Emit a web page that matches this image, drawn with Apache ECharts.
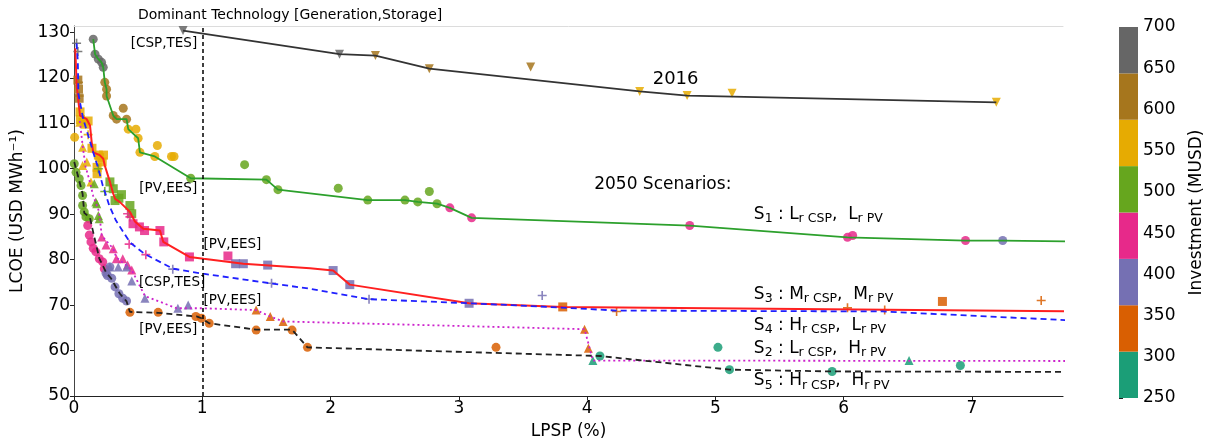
<!DOCTYPE html>
<html>
<head>
<meta charset="utf-8">
<script src="https://cdn.jsdelivr.net/npm/echarts@6/dist/echarts.min.js"></script>
<style>
  html, body { margin: 0; background: #fff; }
  #chart { width: 1215px; height: 445px; }
</style>
</head>
<body>
<div id="chart"></div>
<script>
// LCOE vs LPSP, Pareto fronts per scenario, points coloured by investment (MUSD)

// colour bar: Dark2, 8 bins between 250 and 700
const invEdges = [250, 306.25, 362.5, 418.75, 475, 531.25, 587.5, 643.75, 700];
const invColors = ['#1b9e77', '#d95f02', '#7570b3', '#e7298a', '#66a61e', '#e6ab02', '#a6761d', '#666666'];
const invTicks = [250, 300, 350, 400, 450, 500, 550, 600, 650, 700];
const xTicks = [0, 1, 2, 3, 4, 5, 6, 7];
const yTicks = [50, 60, 70, 80, 90, 100, 110, 120, 130];

// 2016 (black solid, triangle down) - points are [lpsp, lcoe, investment]
const line2016 = [[0.85, 130.4], [2.07, 125.2], [2.35, 124.9], [2.77, 122.0], [4.41, 117.0], [4.78, 116.1], [7.19, 114.6]];
const pts2016 = [[0.85, 130.4, 670], [2.07, 125.2, 670], [2.35, 124.9, 615], [2.77, 122.0, 615], [3.56, 122.4, 615],
  [4.41, 117.0, 560], [4.78, 116.1, 560], [5.13, 116.6, 560], [7.19, 114.6, 560]];

// S1 (green solid, circles)
const lineS1 = [[0.15, 128.5], [0.164, 125.2], [0.19, 124.1], [0.215, 123.4], [0.228, 122.3], [0.24, 119], [0.254, 117.5],
  [0.254, 116], [0.306, 111.7], [0.332, 110.9], [0.41, 110.9], [0.423, 108.7], [0.5, 106.7], [0.514, 103.6], [0.63, 102.7],
  [0.91, 97.9], [1.5, 97.6], [1.59, 95.4], [2.29, 93.1], [2.58, 93.1], [2.68, 92.7], [2.83, 92.3], [2.93, 91.4], [3.1, 89.2],
  [4.8, 87.5], [6.03, 84.9], [6.95, 84.2], [7.24, 84.2], [7.8, 84.0]];
const ptsS1 = [[0.15, 128.5, 670], [0.164, 125.2, 670], [0.19, 124.1, 670], [0.215, 123.4, 670], [0.228, 122.3, 670],
  [0.24, 119, 615], [0.254, 117.5, 615], [0.254, 116, 615], [0.384, 113.3, 615], [0.306, 111.7, 615], [0.332, 110.9, 615],
  [0.41, 110.9, 590], [0.423, 108.7, 560], [0.483, 108.7, 560], [0.5, 106.7, 560], [0.65, 105.1, 560], [0.514, 103.6, 560],
  [0.63, 102.7, 560], [0.76, 102.7, 560], [0.78, 102.7, 560],
  [0.91, 97.9, 500], [1.33, 100.9, 500], [1.5, 97.6, 500], [1.59, 95.4, 500], [2.06, 95.7, 500], [2.29, 93.1, 500],
  [2.58, 93.1, 500], [2.68, 92.7, 500], [2.77, 95.0, 500], [2.83, 92.3, 500],
  [2.93, 91.4, 445], [3.1, 89.2, 445], [4.8, 87.5, 445], [6.03, 84.9, 445], [6.07, 85.3, 445], [6.95, 84.2, 445],
  [7.24, 84.2, 390]];

// S3 (red solid, squares)
const lineS3 = [[0.01, 126.5], [0.021, 118.2], [0.047, 111.7], [0.099, 110.9], [0.125, 109.5], [0.138, 105.8], [0.15, 103.6],
  [0.2, 103], [0.228, 102.2], [0.24, 100.7], [0.28, 97.1], [0.306, 94.5], [0.32, 93.4], [0.36, 92.6], [0.436, 90.5],
  [0.475, 88.4], [0.54, 86.8], [0.67, 86.4], [0.696, 83.9], [0.9, 80.6], [1.01, 80.2], [1.32, 79.1], [1.84, 78.1],
  [2.02, 77.6], [2.15, 74.5], [3.08, 70.4], [3.81, 69.6], [7.8, 68.6]];
const ptsS3 = [[0.03, 119.5, 615], [0.035, 117.5, 615], [0.04, 115.5, 615],
  [0.047, 112.5, 560], [0.05, 110.8, 560], [0.11, 110.5, 560], [0.085, 109.8, 560], [0.14, 104.5, 560], [0.19, 103, 560],
  [0.2, 102.5, 560], [0.23, 103, 560], [0.22, 101.5, 560], [0.18, 100.3, 560], [0.18, 98.9, 560],
  [0.28, 97.1, 500], [0.306, 95.6, 500], [0.37, 94.3, 500], [0.35, 93.5, 500], [0.32, 93, 500], [0.436, 91.9, 500], [0.45, 90.1, 500],
  [0.46, 87.9, 445], [0.51, 87.2, 445], [0.55, 86.4, 445], [0.67, 86.4, 445], [0.7, 83.9, 445], [0.9, 80.6, 445], [1.2, 80.8, 445],
  [1.26, 79.1, 390], [1.32, 79.1, 390], [1.51, 78.8, 390], [2.02, 77.6, 390], [2.15, 74.5, 390], [3.08, 70.4, 390],
  [3.81, 69.6, 335], [6.77, 70.8, 335]];

// S4 (blue dashed, plus)
const lineS4 = [[0.02, 127.6], [0.03, 123.5], [0.034, 116.5], [0.072, 110.9], [0.111, 107.3], [0.15, 103.6], [0.19, 100],
  [0.224, 96.3], [0.241, 94.9], [0.275, 91.9], [0.327, 88.6], [0.436, 83.8], [0.553, 81.2], [0.773, 78], [1.007, 76.9],
  [1.53, 74.8], [1.84, 73.6], [2.3, 71.3], [3.08, 70.4], [3.63, 69.7], [4.23, 68.8], [6.3, 68.6], [7.8, 66.6]];
const ptsS4 = [[0.02, 127.6, 670], [0.03, 125.8, 670], [0.035, 119, 615], [0.04, 116, 615], [0.07, 111, 560], [0.11, 107.5, 560],
  [0.19, 100, 500], [0.24, 95, 500],
  [0.418, 90.1, 445], [0.436, 89.4, 445], [0.43, 83.4, 445], [0.56, 81.1, 445],
  [0.77, 77.9, 390], [1.54, 74.8, 390], [2.3, 71.3, 390], [3.65, 72.1, 390],
  [4.23, 68.6, 335], [6.03, 69.4, 335], [6.32, 68.9, 335], [7.54, 71.0, 335]];

// S2 (magenta dotted, triangles)
const lineS2 = [[0.045, 110.5], [0.07, 104.5], [0.09, 100.5], [0.12, 97.5], [0.15, 94], [0.19, 91], [0.2, 89.5], [0.216, 85.3],
  [0.306, 82.4], [0.33, 80.5], [0.45, 77.7], [0.553, 72], [0.8, 69.3], [1.007, 69.3], [1.42, 68.9], [1.53, 67.5], [1.63, 66.4],
  [3.98, 64.7], [4.02, 60.5], [4.045, 57.8], [7.8, 57.7]];
const ptsS2 = [[0.045, 110.2, 560], [0.067, 104.7, 560], [0.067, 100.7, 560], [0.1, 101.5, 560], [0.132, 97.1, 560],
  [0.158, 96.7, 500], [0.177, 92.3, 500], [0.19, 89.7, 500], [0.17, 92.7, 500], [0.197, 89, 500],
  [0.216, 85, 445], [0.25, 83.2, 445], [0.306, 82.4, 445], [0.33, 80.2, 445], [0.38, 80.2, 445], [0.418, 78.8, 445], [0.45, 77.7, 445],
  [0.28, 78.4, 390], [0.345, 78.4, 390], [0.41, 78.4, 390], [0.45, 75.3, 390], [0.553, 71.5, 390], [0.81, 69.3, 390], [0.89, 70, 390],
  [1.42, 68.9, 335], [1.53, 67.5, 335], [1.63, 66.4, 335], [3.98, 64.7, 335], [4.01, 60.5, 335],
  [4.045, 57.8, 280], [6.51, 57.8, 280]];

// S5 (black dashed, circles)
const lineS5 = [[0.002, 101.5], [0.03, 98.5], [0.067, 94.5], [0.08, 90.3], [0.125, 89.2], [0.138, 87.5], [0.15, 86],
  [0.197, 80.3], [0.25, 77.2], [0.288, 75.9], [0.358, 72.5], [0.41, 70.8], [0.436, 68.5], [0.656, 68.3], [0.955, 67.5],
  [0.994, 67.1], [1.054, 66], [1.42, 64.6], [1.7, 64.6], [1.82, 60.7], [4.1, 58.8], [5.11, 55.8], [5.91, 55.4], [7.8, 55.3]];
const ptsS5 = [[0.005, 106.9, 560],
  [0.002, 101.1, 500], [0.016, 99.2, 500], [0.041, 97.8, 500], [0.055, 96.3, 500], [0.067, 94.1, 500], [0.067, 91.9, 500],
  [0.08, 90.5, 500], [0.093, 89.4, 500], [0.119, 89, 500],
  [0.107, 87.5, 445], [0.119, 85.4, 445], [0.132, 83.9, 445], [0.15, 82.5, 445], [0.171, 81.7, 445], [0.197, 80.2, 445],
  [0.224, 79.5, 445], [0.236, 78, 445],
  [0.25, 77, 390], [0.28, 78.4, 390], [0.26, 76.5, 390], [0.294, 75.9, 390], [0.32, 74, 390], [0.35, 72.5, 390],
  [0.38, 71.5, 390], [0.41, 70.9, 390],
  [0.436, 68.4, 335], [0.656, 68.4, 335], [0.95, 67.5, 335], [0.994, 67.1, 335], [1.054, 66, 335], [1.42, 64.5, 335],
  [1.7, 64.5, 335], [1.82, 60.7, 335], [3.29, 60.7, 335],
  [4.1, 58.8, 280], [5.02, 60.7, 280], [5.11, 55.8, 280], [5.91, 55.4, 280], [6.91, 56.7, 280]];

// text annotations: [lpsp, lcoe, text, align]
const techLabels = [[0.96, 127.6, '[CSP,TES]', 'right'], [0.96, 95.6, '[PV,EES]', 'right'], [1.01, 83.3, '[PV,EES]', 'left'],
  [0.506, 75.0, '[CSP,TES]', 'left'], [1.01, 71.0, '[PV,EES]', 'left'], [0.96, 64.7, '[PV,EES]', 'right']];
const scenarioLabels = [
  [4.69, 119.7, '{b|2016}', 'center'],
  [4.59, 96.5, '{n|2050 Scenarios:}', 'center'],
  [5.3, 89.9, '{n|S}{s|1}{n| : L}{s|r CSP}{n|,  L}{s|r PV}', 'left'],
  [5.3, 72.4, '{n|S}{s|3}{n| : M}{s|r CSP}{n|,  M}{s|r PV}', 'left'],
  [5.3, 65.6, '{n|S}{s|4}{n| : H}{s|r CSP}{n|,  L}{s|r PV}', 'left'],
  [5.3, 60.5, '{n|S}{s|2}{n| : L}{s|r CSP}{n|,  H}{s|r PV}', 'left'],
  [5.3, 53.3, '{n|S}{s|5}{n| : H}{s|r CSP}{n|,  H}{s|r PV}', 'left']];

const FONT = 'DejaVu Sans';
const plusPath = 'path://M4.1,0H5.9V4.1H10V5.9H5.9V10H4.1V5.9H0V4.1H4.1Z';

function invColor(v) {
  for (let i = 0; i < invColors.length; i++) {
    if (v < invEdges[i + 1]) return invColors[i];
  }
  return invColors[invColors.length - 1];
}

const chart = echarts.init(document.getElementById('chart'), null, { renderer: 'canvas' });

function lineSeries(data, color, type, width) {
  return {
    type: 'line', data: data, xAxisIndex: 0, yAxisIndex: 0,
    showSymbol: false, symbol: 'none', silent: true, z: 4,
    lineStyle: { color: color, type: type, width: width }
  };
}

function pointSeries(data, symbol, size, rotate) {
  return {
    type: 'scatter', data: data, xAxisIndex: 0, yAxisIndex: 0,
    symbol: symbol, symbolSize: size, symbolRotate: rotate || 0, silent: true, z: 3,
    itemStyle: { color: p => invColor(p.data[2]), opacity: 0.85 }
  };
}

function textSeries(rows, rich) {
  return {
    type: 'scatter', xAxisIndex: 0, yAxisIndex: 0, symbolSize: 0, silent: true, z: 6,
    itemStyle: { color: '#000', opacity: 1 },
    data: rows.map(r => ({ value: [r[0], r[1]], label: { formatter: r[2], align: r[3] } })),
    label: {
      show: true, position: [0, 0], verticalAlign: 'middle', opacity: 1,
      fontFamily: FONT, fontSize: 13.5, color: '#000', textBorderWidth: 0, rich: rich
    }
  };
}

const richS = {
  n: { fontFamily: FONT, fontSize: 17, color: '#000', textBorderWidth: 0 },
  s: { fontFamily: FONT, fontSize: 12.5, color: '#000', textBorderWidth: 0, padding: [9, 0, 0, 0] },
  b: { fontFamily: FONT, fontSize: 18, color: '#000', textBorderWidth: 0 }
};

const option = {
  backgroundColor: '#fff',
  animation: false,
  graphic: [{
    type: 'text', left: 138, top: 8,
    style: { text: 'Dominant Technology [Generation,Storage]', fontFamily: FONT, fontSize: 14, fill: '#000' }
  }],
  grid: [
    { left: 74, right: 152, top: 26, bottom: 47 },
    { left: 1119, width: 19, top: 27, height: 371 }
  ],
  xAxis: [{
    type: 'value', gridIndex: 0, min: 0, max: 7.71, interval: 1,
    name: 'LPSP (%)', nameLocation: 'middle', nameGap: 27,
    nameTextStyle: { fontFamily: FONT, fontSize: 17, color: '#000' },
    axisLine: { lineStyle: { color: '#222', width: 1.2 } },
    axisTick: { length: 4, lineStyle: { color: '#222' }, customValues: xTicks },
    axisLabel: { fontFamily: FONT, fontSize: 17, color: '#000', margin: 4, customValues: xTicks },
    splitLine: { show: false }
  }, {
    type: 'value', gridIndex: 0, position: 'top', min: 0, max: 7.71,
    axisLine: { lineStyle: { color: '#dcdcdc' } }, axisTick: { show: false }, axisLabel: { show: false }, splitLine: { show: false }
  }, {
    type: 'value', gridIndex: 1, min: 0, max: 1, show: false
  }],
  yAxis: [{
    type: 'value', gridIndex: 0, min: 50, max: 131.4, interval: 10,
    name: 'LCOE (USD MWh\u207B\u00B9)', nameLocation: 'middle', nameGap: 48,
    nameTextStyle: { fontFamily: FONT, fontSize: 17, color: '#000' },
    axisLine: { show: true, lineStyle: { color: '#dcdcdc', width: 1 } },
    axisTick: { show: true, length: 4, lineStyle: { color: '#222' }, customValues: yTicks },
    axisLabel: { fontFamily: FONT, fontSize: 17, color: '#000', margin: 4, customValues: yTicks },
    splitLine: { show: false }
  }, {
    type: 'value', gridIndex: 0, position: 'right', min: 50, max: 131.4,
    axisLine: { show: true, lineStyle: { color: '#444' } }, axisTick: { show: false }, axisLabel: { show: false }, splitLine: { show: false }
  }, {
    type: 'value', gridIndex: 1, position: 'right', min: 250, max: 700, interval: 50,
    name: 'Investment (MUSD)', nameLocation: 'middle', nameGap: 50, nameRotate: 90,
    nameTextStyle: { fontFamily: FONT, fontSize: 17, color: '#000' },
    axisLine: { show: false },
    axisTick: { show: true, length: 4, lineStyle: { color: '#222' }, customValues: invTicks },
    axisLabel: { fontFamily: FONT, fontSize: 17, color: '#000', margin: 5, customValues: invTicks },
    splitLine: { show: false }
  }],
  series: [
    // colour bar
    {
      type: 'custom', xAxisIndex: 2, yAxisIndex: 2, silent: true,
      data: invColors.map((c, i) => [invEdges[i], invEdges[i + 1], i]),
      renderItem: function (params, api) {
        const p0 = api.coord([0, api.value(0)]);
        const p1 = api.coord([1, api.value(1)]);
        return {
          type: 'rect',
          shape: { x: p0[0], y: p1[1], width: p1[0] - p0[0], height: p0[1] - p1[1] },
          style: { fill: invColors[api.value(2)] }
        };
      }
    },
    pointSeries(pts2016, 'triangle', 9, 180),
    pointSeries(ptsS1, 'circle', 9),
    pointSeries(ptsS3, 'rect', 9),
    pointSeries(ptsS4, plusPath, 9),
    pointSeries(ptsS2, 'triangle', 9),
    pointSeries(ptsS5, 'circle', 9),
    Object.assign(lineSeries(line2016, '#333', 'solid', 1.8), {
      markLine: {
        silent: true, symbol: 'none', label: { show: false },
        lineStyle: { color: '#000', type: [4, 3], width: 1.5 },
        data: [{ xAxis: 1 }]
      }
    }),
    lineSeries(lineS1, '#2ca02c', 'solid', 1.8),
    lineSeries(lineS3, '#ff2020', 'solid', 2),
    lineSeries(lineS4, '#2020ff', [6, 4], 1.8),
    lineSeries(lineS2, '#cc22cc', [2, 3], 1.8),
    lineSeries(lineS5, '#222', [6, 4], 1.8),
    textSeries(techLabels, richS),
    textSeries(scenarioLabels, richS)
  ]
};

chart.setOption(option);
</script>
</body>
</html>
